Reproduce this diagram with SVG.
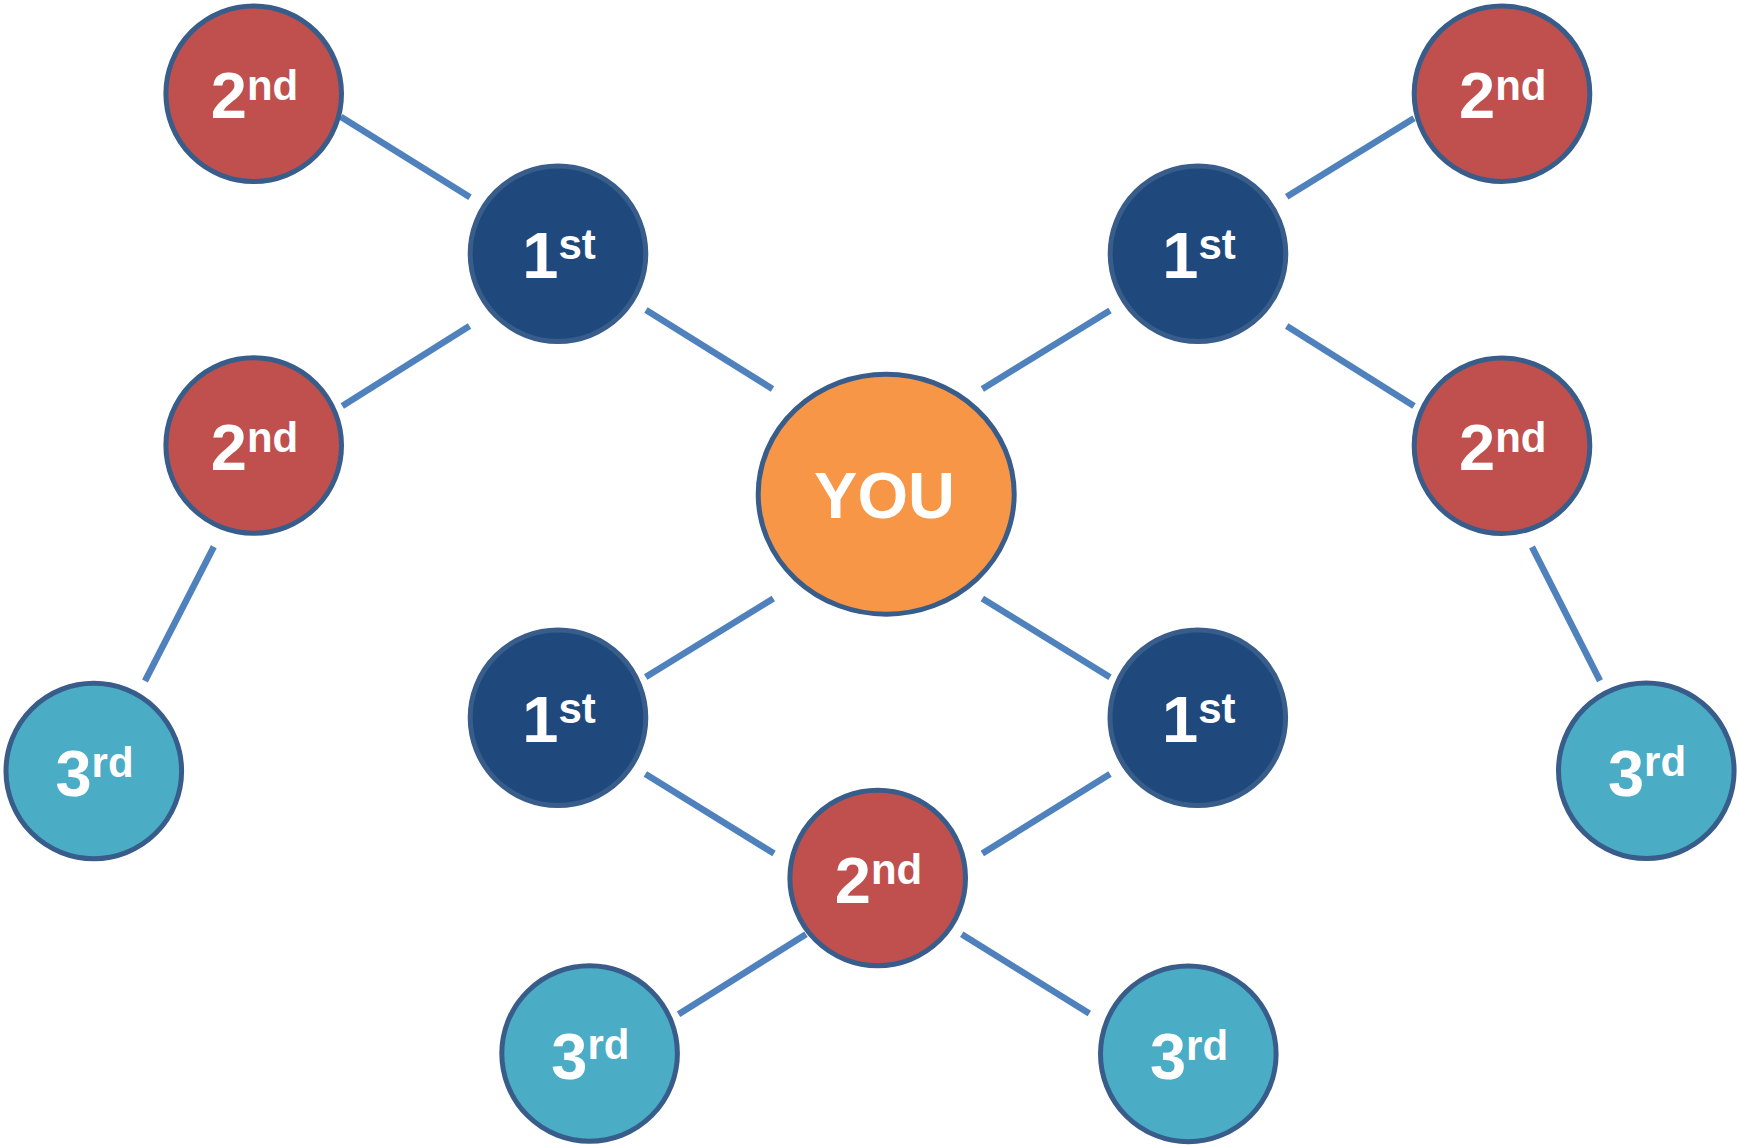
<svg xmlns="http://www.w3.org/2000/svg" width="1737" height="1146" viewBox="0 0 1737 1146">
<style>
.edge{stroke:#4F81BD;stroke-width:6.5;fill:none;stroke-linecap:butt}
.node{stroke:#385D8A;stroke-width:5}
.n1{fill:#1F497D}
.n2{fill:#C0504D}
.n3{fill:#4BACC6}
.you{fill:#F79646}
.lbl{font-family:"Liberation Sans",Arial,sans-serif;font-weight:bold;fill:#FFFFFF;text-anchor:middle;font-size:65px}
.sup{font-size:42px}
</style>
<rect width="1737" height="1146" fill="#FFFFFF"/>
<g id="connectors">
<line class="edge" x1="340.7" y1="116.7" x2="470" y2="197.3"/>
<line class="edge" x1="646" y1="310" x2="772.5" y2="389"/>
<line class="edge" x1="469.5" y1="326" x2="342.3" y2="406"/>
<line class="edge" x1="213.8" y1="546.7" x2="145" y2="681"/>
<line class="edge" x1="982.3" y1="389" x2="1110" y2="310.5"/>
<line class="edge" x1="1286.7" y1="196.7" x2="1414" y2="118.3"/>
<line class="edge" x1="1286.7" y1="326" x2="1414" y2="406"/>
<line class="edge" x1="1532" y1="547" x2="1600" y2="680.7"/>
<line class="edge" x1="773.3" y1="598.5" x2="645.7" y2="677"/>
<line class="edge" x1="982.3" y1="598.5" x2="1110" y2="677.3"/>
<line class="edge" x1="645.4" y1="774.1" x2="774" y2="853.5"/>
<line class="edge" x1="1110" y1="774.1" x2="982.3" y2="853.5"/>
<line class="edge" x1="806" y1="934.3" x2="678.6" y2="1014.3"/>
<line class="edge" x1="961.7" y1="934.3" x2="1089.3" y2="1013.6"/>
</g>
<g id="you">
<ellipse class="node you" cx="886.2" cy="494.2" rx="128" ry="120"/>
<text class="lbl" x="884.5" y="518.3">YOU</text>
</g>
<g id="first-top-left">
<circle class="node n1" cx="558" cy="253.7" r="87.8"/>
<text class="lbl" x="559" y="278.3">1<tspan class="sup" dy="-19">st</tspan></text>
</g>
<g id="first-top-right">
<circle class="node n1" cx="1198" cy="253.7" r="87.8"/>
<text class="lbl" x="1199" y="278.3">1<tspan class="sup" dy="-19">st</tspan></text>
</g>
<g id="first-bottom-left">
<circle class="node n1" cx="558" cy="717.7" r="87.8"/>
<text class="lbl" x="559" y="742.3">1<tspan class="sup" dy="-19">st</tspan></text>
</g>
<g id="first-bottom-right">
<circle class="node n1" cx="1197.8" cy="717.7" r="87.8"/>
<text class="lbl" x="1198.8" y="742.3">1<tspan class="sup" dy="-19">st</tspan></text>
</g>
<g id="second-top-left">
<circle class="node n2" cx="253.7" cy="93.7" r="87.8"/>
<text class="lbl" x="254.5" y="118.3">2<tspan class="sup" dy="-18.5">nd</tspan></text>
</g>
<g id="second-mid-left">
<circle class="node n2" cx="253.7" cy="445.5" r="87.8"/>
<text class="lbl" x="254.5" y="470.1">2<tspan class="sup" dy="-18.5">nd</tspan></text>
</g>
<g id="second-top-right">
<circle class="node n2" cx="1502" cy="93.7" r="87.8"/>
<text class="lbl" x="1502.8" y="118.3">2<tspan class="sup" dy="-18.5">nd</tspan></text>
</g>
<g id="second-mid-right">
<circle class="node n2" cx="1502" cy="445.8" r="87.8"/>
<text class="lbl" x="1502.8" y="470.4">2<tspan class="sup" dy="-18.5">nd</tspan></text>
</g>
<g id="second-bottom">
<circle class="node n2" cx="877.7" cy="878" r="87.8"/>
<text class="lbl" x="878.5" y="902.6">2<tspan class="sup" dy="-18.5">nd</tspan></text>
</g>
<g id="third-left">
<circle class="node n3" cx="93.8" cy="771" r="87.8"/>
<text class="lbl" x="94.5" y="796">3<tspan class="sup" dy="-19.3">rd</tspan></text>
</g>
<g id="third-right">
<circle class="node n3" cx="1646.3" cy="770.7" r="87.8"/>
<text class="lbl" x="1647" y="795.7">3<tspan class="sup" dy="-19.3">rd</tspan></text>
</g>
<g id="third-bottom-left">
<circle class="node n3" cx="589.6" cy="1053.5" r="87.8"/>
<text class="lbl" x="590.3" y="1078.5">3<tspan class="sup" dy="-19.3">rd</tspan></text>
</g>
<g id="third-bottom-right">
<circle class="node n3" cx="1188.3" cy="1053.9" r="87.8"/>
<text class="lbl" x="1189" y="1078.9">3<tspan class="sup" dy="-19.3">rd</tspan></text>
</g>
</svg>
